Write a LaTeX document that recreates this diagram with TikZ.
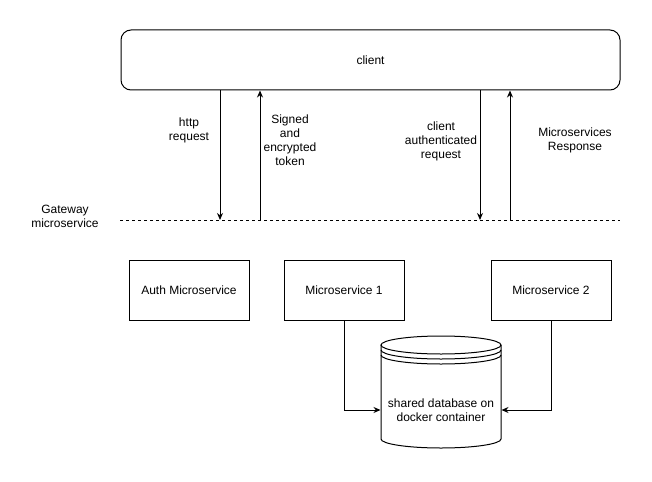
\documentclass[tikz,border=0pt]{standalone}
\usepackage{fontspec}
\setmainfont{Liberation Sans}
\usetikzlibrary{arrows.meta}

\begin{document}
\begin{tikzpicture}[
    x=1pt,y=-1pt,
    line width=1pt,
    every node/.style={align=center,font=\fontsize{12}{14}\selectfont},
    box/.style={
        draw,minimum width=120pt,minimum height=60pt,inner sep=0pt
    },
    flow/.style={
        -{Stealth[length=7pt,width=6pt]}
    },
    lbl/.style={inner sep=0pt}
]
    \useasboundingbox (0,0) rectangle (652,481);

    \node (client) [box,minimum width=499pt,rounded corners=10pt]
        at (370.5,60) {client};

    \node (authms) [box] at (189,290) {Auth Microservice};
    \node (ms1) [box] at (344,290) {Microservice 1};
    \node (ms2) [box] at (551,290) {Microservice 2};

    % gateway line
    \coordinate (gwL) at (120,220);
    \coordinate (gwR) at (620,220);
    \draw [dash pattern=on 3pt off 3pt] (gwL) -- (gwR);
    \node (gateway) [lbl] at (65,216) {Gateway\\microservice};

    \coordinate (httpEnd) at (220,220);
    \coordinate (tokenEnd) at (260,220);
    \coordinate (authEnd) at (480,220);
    \coordinate (respEnd) at (510,220);

    \draw [flow] (client.south -| httpEnd) -- (httpEnd);
    \draw [flow] (tokenEnd) -- (client.south -| tokenEnd);
    \draw [flow] (client.south -| authEnd) -- (authEnd);
    \draw [flow] (respEnd) -- (client.south -| respEnd);

    \node (httplbl) [lbl] at (189,130) {http\\request};
    \node (tokenlbl) [lbl] at (290,140) {Signed\\and\\encrypted\\token};
    \node (authlbl) [lbl] at (441,141) {client\\authenticated\\request};
    \node (resplbl) [lbl] at (575,140) {Microservices\\Response};

    % database
    \node (db) [minimum width=120pt,minimum height=112pt,inner sep=0pt]
        at (441,392) {};
    \draw (381,345) -- (381,439) arc[start angle=180,end angle=360,
        x radius=60pt,y radius=9pt] -- (501,345);
    \draw (441,345) ellipse [x radius=60pt,y radius=9pt];
    \draw (381,350) arc[start angle=180,end angle=360,
        x radius=60pt,y radius=9pt];
    \draw (381,355) arc[start angle=180,end angle=360,
        x radius=60pt,y radius=9pt];
    \node (dblbl) [lbl] at (441,410) {shared database on\\docker container};

    \draw [flow] (ms1.south) |- (db.west |- dblbl);
    \draw [flow] (ms2.south) |- (db.east |- dblbl);
\end{tikzpicture}
\end{document}
